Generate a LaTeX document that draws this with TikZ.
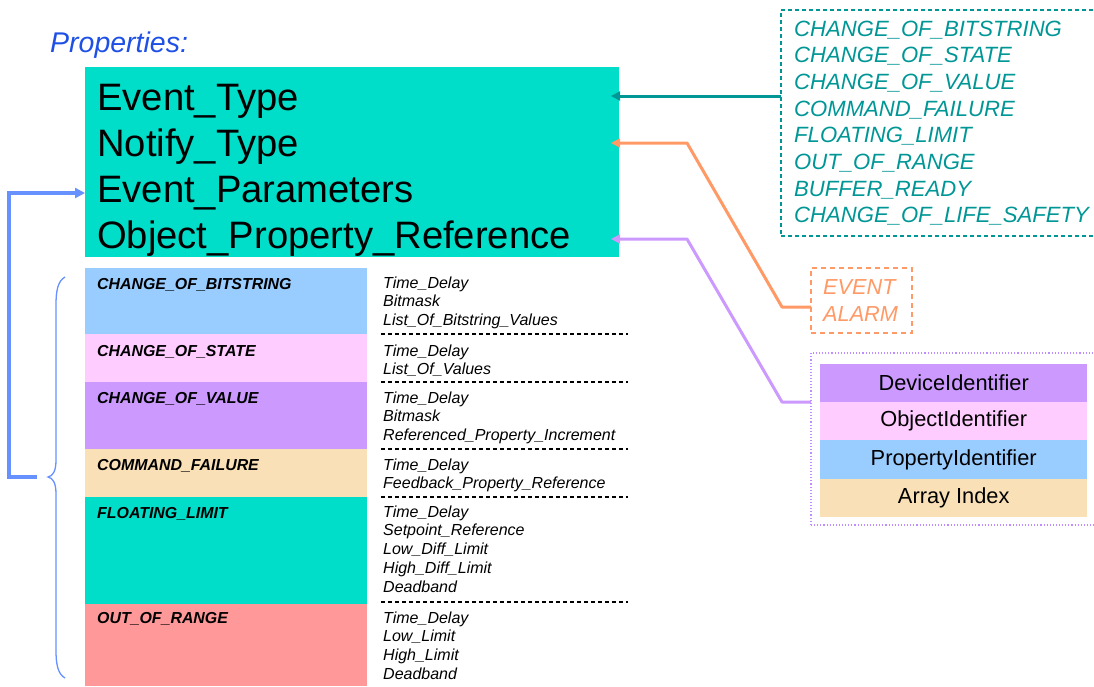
\documentclass[tikz,border=0pt]{standalone}
\usepackage{fontspec}
\setmainfont{Liberation Sans}
\usetikzlibrary{arrows.meta}

\definecolor{aqua}{RGB}{0,221,200}
\definecolor{skyrow}{RGB}{153,204,255}
\definecolor{pinkrow}{RGB}{255,204,255}
\definecolor{lilacrow}{RGB}{204,153,255}
\definecolor{lilacdot}{RGB}{190,140,255}
\definecolor{tanrow}{RGB}{250,224,182}
\definecolor{salmonrow}{RGB}{255,153,153}
\definecolor{tealtext}{RGB}{0,150,150}
\definecolor{orangeline}{RGB}{255,153,102}
\definecolor{propblue}{RGB}{30,80,230}
\definecolor{bracketblue}{RGB}{102,145,255}

\begin{document}
\begin{tikzpicture}[x=1pt,y=-1pt,
  box/.style={anchor=north west, inner sep=0pt, outer sep=0pt, minimum width=#1},
  bigtxt/.style={anchor=base west, inner sep=0pt, font=\fontsize{38.2}{44}\selectfont},
  rowlab/.style={anchor=base west, inner sep=0pt, font=\fontsize{15.9}{18}\selectfont\bfseries\itshape},
  param/.style={anchor=base west, inner sep=0pt, font=\fontsize{16}{18}\selectfont\itshape},
  sepline/.style={black, line width=1.2pt, dash pattern=on 4pt off 3pt},
  eventitem/.style={anchor=base west, inner sep=0pt, text=tealtext, font=\fontsize{22.1}{26}\selectfont\itshape},
  alarmitem/.style={anchor=base west, inner sep=0pt, text=orangeline, font=\fontsize{21.7}{26}\selectfont\itshape},
  refrow/.style={anchor=north west, inner sep=0pt, minimum width=267pt, minimum height=38.3pt, font=\fontsize{21.8}{25}\selectfont},
  tip/.style={-{Triangle[length=9pt,width=9pt]}, line width=3pt},
]
\useasboundingbox (0,0) rectangle (1094,686);

% heading
\node[anchor=base west, inner sep=0pt, text=propblue, font=\fontsize{28.5}{33}\selectfont\itshape] (head) at (50,52) {Properties:};

% main property block
\node[box=534pt, minimum height=190pt, fill=aqua] (props) at (85,67) {};
\node[bigtxt] (et)  at (97,110) {Event\_Type};
\node[bigtxt] (nt)  at (97,156) {Notify\_Type};
\node[bigtxt] (ep)  at (97,202) {Event\_Parameters};
\node[bigtxt] (opr) at (97,248) {Object\_Property\_Reference};

% event parameter rows
\node[box=282pt, minimum height=66pt,  fill=skyrow]    (r1) at (85,268) {};
\node[box=282pt, minimum height=48pt,  fill=pinkrow]   (r2) at (85,334) {};
\node[box=282pt, minimum height=67pt,  fill=lilacrow]  (r3) at (85,382) {};
\node[box=282pt, minimum height=48pt,  fill=tanrow]    (r4) at (85,449) {};
\node[box=282pt, minimum height=107pt, fill=aqua]      (r5) at (85,497) {};
\node[box=282pt, minimum height=82pt,  fill=salmonrow] (r6) at (85,604) {};

\node[rowlab] (l1) at (97,289) {CHANGE\_OF\_BITSTRING};
\node[rowlab] (l2) at (97,356) {CHANGE\_OF\_STATE};
\node[rowlab] (l3) at (97,403) {CHANGE\_OF\_VALUE};
\node[rowlab] (l4) at (97,470) {COMMAND\_FAILURE};
\node[rowlab] (l5) at (97,518) {FLOATING\_LIMIT};
\node[rowlab] (l6) at (97,623) {OUT\_OF\_RANGE};

\foreach \t [count=\k] in {Time\_Delay, Bitmask, List\_Of\_Bitstring\_Values}
  \node[param] (pa\k) at (383,{288+18.9*(\k-1)}) {\t};
\foreach \t [count=\k] in {Time\_Delay, List\_Of\_Values}
  \node[param] (pb\k) at (383,{356+18.9*(\k-1)}) {\t};
\foreach \t [count=\k] in {Time\_Delay, Bitmask, Referenced\_Property\_Increment}
  \node[param] (pc\k) at (383,{403+18.9*(\k-1)}) {\t};
\foreach \t [count=\k] in {Time\_Delay, Feedback\_Property\_Reference}
  \node[param] (pd\k) at (383,{470+18.9*(\k-1)}) {\t};
\foreach \t [count=\k] in {Time\_Delay, Setpoint\_Reference, Low\_Diff\_Limit, High\_Diff\_Limit, Deadband}
  \node[param] (pe\k) at (383,{517+18.9*(\k-1)}) {\t};
\foreach \t [count=\k] in {Time\_Delay, Low\_Limit, High\_Limit, Deadband}
  \node[param] (pf\k) at (383,{623+18.9*(\k-1)}) {\t};

\foreach \yy in {334,382,449,497,602}
  \draw[sepline] (381,\yy) -- (628,\yy);

% curly brace over the rows
\draw[bracketblue, line width=1.3pt]
  (65,277) .. controls (58,281) and (56,290) .. (56,305) -- (56,460)
  .. controls (56,471) and (53,476) .. (48,477)
  .. controls (53,478) and (56,483) .. (56,494) -- (56,650)
  .. controls (56,665) and (58,674) .. (65,678);

% bracket back to Event_Parameters
\coordinate (bfoot) at (37,477);
\draw[tip, bracketblue, line width=3.2pt, -{Triangle[length=10pt,width=10pt]}]
  (bfoot) -- (9,477) -- (9,193) -- (props.west |- 0,193);

% event type list
\node[box=330pt, minimum height=226pt, draw=tealtext, line width=1.2pt, dash pattern=on 4pt off 3pt] (evlist) at (781,10) {};
\foreach \t [count=\k] in {CHANGE\_OF\_BITSTRING, CHANGE\_OF\_STATE, CHANGE\_OF\_VALUE, COMMAND\_FAILURE, FLOATING\_LIMIT, OUT\_OF\_RANGE, BUFFER\_READY, CHANGE\_OF\_LIFE\_SAFETY}
  \node[eventitem] (ev\k) at (794,{36+26.7*(\k-1)}) {\t};

% notify type list
\node[box=101pt, minimum height=65pt, draw=orangeline, line width=1.3pt, dash pattern=on 5pt off 4pt] (alarm) at (811,268) {};
\node[alarmitem] (evt) at (823,294) {EVENT};
\node[alarmitem] (alm) at (823,321) {ALARM};

% object property reference parts
\node[box=289pt, minimum height=172pt, draw=lilacdot, line width=1.1pt, dotted] (refbox) at (811,353) {};
\node[refrow, fill=lilacrow] (dev)  at (820,363.5) {DeviceIdentifier};
\node[refrow, fill=pinkrow]  (obj)  at (820,401.8) {ObjectIdentifier};
\node[refrow, fill=skyrow]   (pid)  at (820,440.1) {PropertyIdentifier};
\node[refrow, fill=tanrow]   (aidx) at (820,478.4) {Array Index};

% connectors into the property block
\coordinate (evout) at ([yshift=-86pt]evlist.north west);
\draw[tip, tealtext, shorten >=-8pt] (evout) -- (evout -| props.east);

\coordinate (alout) at ([yshift=-39pt]alarm.north west);
\draw[tip, orangeline, shorten >=-8pt, line join=round]
  (alout) -- ++(-29,0) -- ++(-95,-164) -- (props.east |- 0,143);

\coordinate (refout) at ([yshift=-49pt]refbox.north west);
\draw[tip, lilacrow, shorten >=-8pt, line join=round]
  (refout) -- ++(-29,0) -- ++(-95,-163) -- (props.east |- 0,239);
\end{tikzpicture}
\end{document}
